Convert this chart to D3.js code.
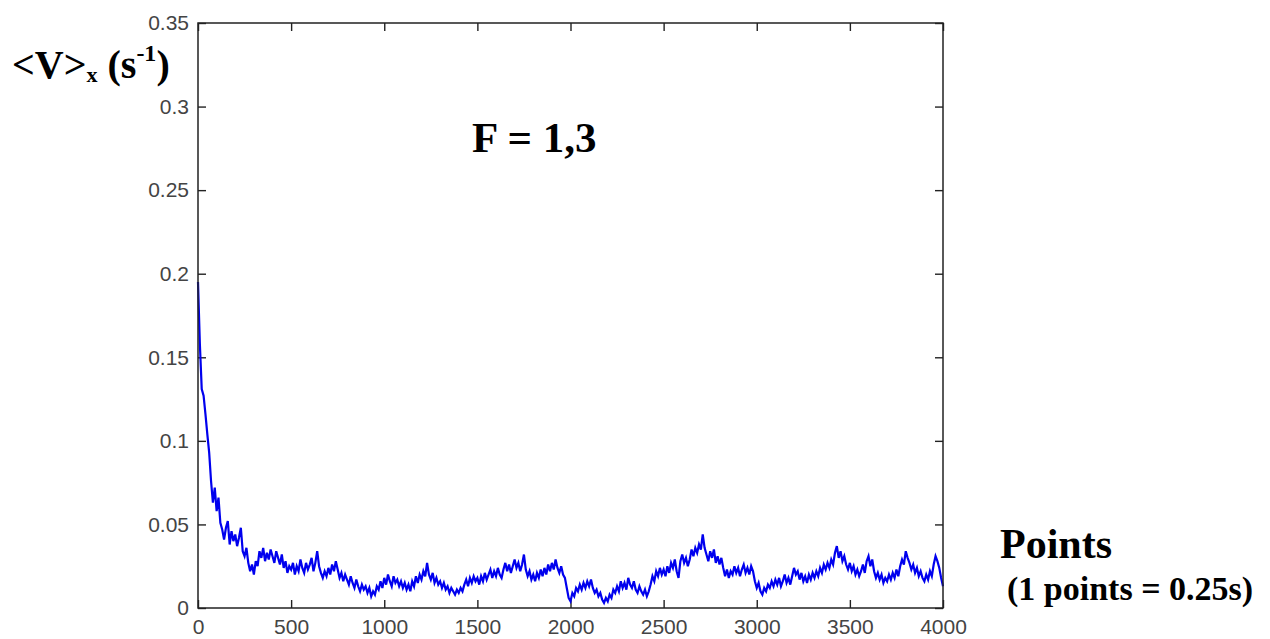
<!DOCTYPE html>
<html>
<head>
<meta charset="utf-8">
<script src="https://cdn.jsdelivr.net/npm/d3@7"></script>
<style>
  body { margin: 0; background: #fff; }
  .tick text { font-family: "Liberation Sans", Arial, sans-serif; fill: #444; }
  .note { font-family: "Liberation Serif", "Times New Roman", serif; font-weight: bold; fill: #000; }
</style>
</head>
<body>
<svg id="chart" width="1270" height="639"></svg>
<script>
// x ticks and y ticks of the plot
const xTicks = [0, 500, 1000, 1500, 2000, 2500, 3000, 3500, 4000];
const yTicks = [0, 0.05, 0.1, 0.15, 0.2, 0.25, 0.3, 0.35];

// one sample every 10 points
const step = 10;
const velocity = [
  0.195, 0.158, 0.131, 0.127, 0.116, 0.104, 0.093, 0.076, 0.063, 0.072,
  0.058, 0.066, 0.051, 0.047, 0.041, 0.048, 0.052, 0.038, 0.046, 0.040,
  0.044, 0.037, 0.042, 0.048, 0.034, 0.031, 0.036, 0.027, 0.022, 0.026,
  0.020, 0.028, 0.025, 0.034, 0.030, 0.036, 0.028, 0.033, 0.029, 0.035,
  0.031, 0.027, 0.034, 0.030, 0.026, 0.032, 0.024, 0.028, 0.021, 0.025,
  0.023, 0.027, 0.020, 0.025, 0.022, 0.029, 0.024, 0.021, 0.027, 0.023,
  0.026, 0.030, 0.022, 0.027, 0.034, 0.025, 0.021, 0.018, 0.022, 0.019,
  0.024, 0.020, 0.026, 0.022, 0.028, 0.023, 0.018, 0.021, 0.016, 0.020,
  0.017, 0.014, 0.019, 0.015, 0.012, 0.017, 0.013, 0.010, 0.014, 0.011,
  0.013, 0.009, 0.012, 0.007, 0.010, 0.008, 0.013, 0.011, 0.016, 0.012,
  0.018, 0.014, 0.020, 0.016, 0.013, 0.019, 0.015, 0.017, 0.013, 0.016,
  0.012, 0.015, 0.011, 0.014, 0.010, 0.016, 0.013, 0.019, 0.015, 0.020,
  0.017, 0.022, 0.019, 0.027, 0.020, 0.017, 0.021, 0.015, 0.018, 0.014,
  0.016, 0.012, 0.015, 0.011, 0.013, 0.009, 0.012, 0.010, 0.008, 0.011,
  0.009, 0.012, 0.010, 0.014, 0.017, 0.013, 0.018, 0.015, 0.019, 0.016,
  0.018, 0.014, 0.019, 0.016, 0.021, 0.017, 0.020, 0.023, 0.018, 0.022,
  0.019, 0.024, 0.020, 0.018, 0.023, 0.027, 0.022, 0.026, 0.021, 0.025,
  0.029, 0.024, 0.027, 0.022, 0.026, 0.032, 0.023, 0.019, 0.022, 0.017,
  0.020, 0.016, 0.021, 0.018, 0.023, 0.019, 0.024, 0.020, 0.026, 0.022,
  0.027, 0.023, 0.029, 0.024, 0.021, 0.025, 0.020, 0.018, 0.012, 0.006,
  0.004, 0.009, 0.007, 0.012, 0.010, 0.014, 0.011, 0.015, 0.012, 0.016,
  0.013, 0.017, 0.012, 0.009, 0.011, 0.007, 0.009, 0.005, 0.003, 0.006,
  0.004, 0.008, 0.006, 0.011, 0.009, 0.013, 0.010, 0.016, 0.012, 0.015,
  0.011, 0.018, 0.014, 0.012, 0.016, 0.011, 0.009, 0.013, 0.010, 0.008,
  0.011, 0.007, 0.010, 0.014, 0.019, 0.016, 0.022, 0.019, 0.024, 0.020,
  0.023, 0.019, 0.025, 0.021, 0.027, 0.024, 0.029, 0.022, 0.018, 0.028,
  0.032, 0.027, 0.030, 0.025, 0.029, 0.035, 0.031, 0.036, 0.033, 0.038,
  0.035, 0.044, 0.036, 0.032, 0.028, 0.034, 0.030, 0.035, 0.027, 0.031,
  0.026, 0.030, 0.024, 0.019, 0.023, 0.018, 0.022, 0.020, 0.025, 0.021,
  0.024, 0.019, 0.023, 0.026, 0.021, 0.024, 0.020, 0.025, 0.022, 0.016,
  0.012, 0.015, 0.010, 0.008, 0.012, 0.010, 0.014, 0.012, 0.016, 0.013,
  0.017, 0.014, 0.018, 0.013, 0.016, 0.020, 0.015, 0.018, 0.014, 0.019,
  0.024, 0.020, 0.022, 0.017, 0.021, 0.016, 0.019, 0.015, 0.020, 0.017,
  0.021, 0.018, 0.022, 0.019, 0.024, 0.021, 0.026, 0.023, 0.027, 0.024,
  0.029, 0.026, 0.033, 0.037, 0.030, 0.034, 0.028, 0.031, 0.026, 0.023,
  0.027, 0.022, 0.025, 0.020, 0.023, 0.019, 0.022, 0.026, 0.021, 0.028,
  0.031, 0.025, 0.029, 0.022, 0.018, 0.021, 0.017, 0.020, 0.015, 0.018,
  0.016, 0.020, 0.017, 0.021, 0.018, 0.023, 0.019, 0.025, 0.029, 0.026,
  0.034, 0.030, 0.027, 0.023, 0.026, 0.021, 0.024, 0.019, 0.022, 0.018,
  0.016, 0.020, 0.017, 0.022, 0.019, 0.026, 0.031, 0.028, 0.024, 0.018,
  0.013
];

const svg = d3.select('#chart');

// plot box in pixels
const boxLeft = 198, boxRight = 943, boxTop = 23, boxBottom = 608;

const x = d3.scaleLinear().domain([0, 4000]).range([boxLeft, boxRight]);
const y = d3.scaleLinear().domain([0, 0.35]).range([boxBottom, boxTop]);

const fmtY = d => d === 0 ? '0' : String(+d.toFixed(2));

// bottom axis, ticks pointing inward
svg.append('g')
  .attr('transform', `translate(0,${boxBottom})`)
  .call(d3.axisBottom(x).tickValues(xTicks).tickFormat(d3.format('d'))
    .tickSize(-8).tickSizeOuter(0).tickPadding(11))
  .call(g => g.select('.domain').remove())
  .call(g => g.selectAll('.tick text').attr('font-size', 21));

// left axis
svg.append('g')
  .attr('transform', `translate(${boxLeft},0)`)
  .call(d3.axisLeft(y).tickValues(yTicks).tickFormat(fmtY).tickSize(-8).tickSizeOuter(0).tickPadding(9))
  .call(g => g.select('.domain').remove())
  .call(g => g.selectAll('.tick text').attr('font-size', 21));

// top and right ticks, no labels
svg.append('g')
  .attr('transform', `translate(0,${boxTop})`)
  .call(d3.axisTop(x).tickValues(xTicks).tickSize(-8).tickFormat(''))
  .call(g => g.select('.domain').remove());
svg.append('g')
  .attr('transform', `translate(${boxRight},0)`)
  .call(d3.axisRight(y).tickValues(yTicks).tickSize(-8).tickFormat(''))
  .call(g => g.select('.domain').remove());

svg.selectAll('.tick line').attr('stroke', '#222').attr('stroke-width', 1.4);

// the series
const line = d3.line()
  .x((d, i) => x(i * step))
  .y(d => y(d));

svg.append('path')
  .datum(velocity)
  .attr('fill', 'none')
  .attr('stroke', '#0000ee')
  .attr('stroke-width', 2.2)
  .attr('stroke-linejoin', 'miter')
  .attr('d', line);

// axes box
svg.append('rect')
  .attr('x', boxLeft)
  .attr('y', boxTop)
  .attr('width', boxRight - boxLeft)
  .attr('height', boxBottom - boxTop)
  .attr('fill', 'none')
  .attr('stroke', '#222')
  .attr('stroke-width', 1.5);

// y label  <V>x (s-1)
const yl = svg.append('text')
  .attr('class', 'note')
  .attr('x', 12)
  .attr('y', 78)
  .attr('font-size', 40);
yl.append('tspan').text('<V>');
yl.append('tspan').attr('font-size', 22).attr('dy', 4).text('x');
yl.append('tspan').attr('dy', -4).text(' (s');
yl.append('tspan').attr('font-size', 24).attr('dy', -17).text('-1');
yl.append('tspan').attr('dy', 17).text(')');

// annotation
svg.append('text')
  .attr('class', 'note')
  .attr('x', 472)
  .attr('y', 152)
  .attr('font-size', 43)
  .text('F = 1,3');

// x label
svg.append('text')
  .attr('class', 'note')
  .attr('x', 1000)
  .attr('y', 558)
  .attr('font-size', 42)
  .text('Points');

svg.append('text')
  .attr('class', 'note')
  .attr('x', 1007)
  .attr('y', 600)
  .attr('font-size', 34)
  .text('(1 points = 0.25s)');
</script>
</body>
</html>
